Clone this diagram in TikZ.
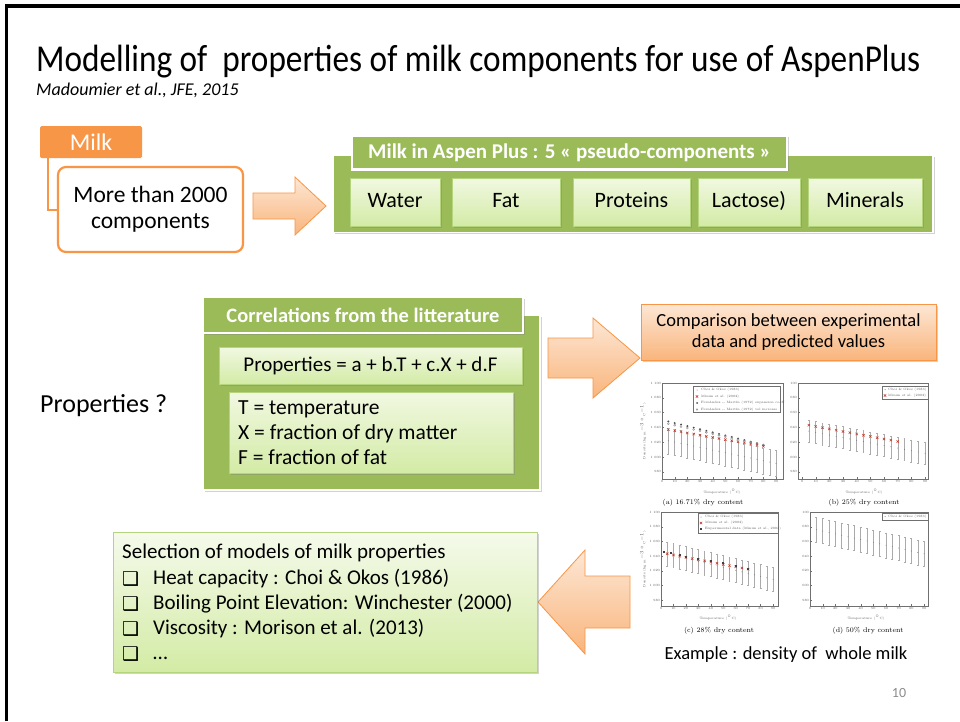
\documentclass[tikz,border=0pt]{standalone}
\usepackage{fontspec}
\usepackage{graphicx}
\setmainfont{Carlito}
\newfontfamily\dejavu{DejaVu Sans}
\newfontfamily\lmr{Latin Modern Roman}
\usetikzlibrary{shadows,calc}
\definecolor{orng}{HTML}{F79646}
\definecolor{grn}{HTML}{9BBB59}
\definecolor{lgtop}{HTML}{F1F8E2}
\definecolor{lgbot}{HTML}{D3EBA5}
\definecolor{lgborder}{HTML}{B5D47E}
\definecolor{pchtop}{HTML}{FDE7D5}
\definecolor{pchbot}{HTML}{F9B57C}
\definecolor{pgnum}{HTML}{8C8C8C}
\definecolor{axisc}{HTML}{707070}
\definecolor{errc}{HTML}{ABABAB}
\definecolor{redx}{HTML}{C0392B}
\tikzset{
  shad/.style={drop shadow={shadow xshift=1.5pt,shadow yshift=-1.8pt,opacity=0.35}},
  greenbox/.style={fill=grn,draw=white,line width=1.2pt,shad},
  greentab/.style={fill=grn,draw=white,line width=2.5pt,text=white,shad},
  limebox/.style={top color=lgtop,bottom color=lgbot,draw=lgborder,line width=0.6pt,shad},
  peachbox/.style={top color=pchtop,bottom color=pchbot,draw=orng,line width=0.8pt,shad},
  blockarrow/.style={top color=pchtop,bottom color=pchbot,draw=orng,line width=0.8pt},
  ticklab/.style={font=\lmr\fontsize{3.2}{3.6}\selectfont,text=black!65,inner sep=0.4pt},
  legtxt/.style={font=\lmr\fontsize{3.2}{3.6}\selectfont,text=black!65,anchor=west,inner sep=0pt},
  caplab/.style={font=\lmr\fontsize{7}{8}\selectfont,inner sep=0pt},
  seltxt/.style={anchor=base west,inner sep=0pt,font=\fontsize{21}{24}\selectfont},
}
\newcommand\densaxes[9]{%
  \draw[axisc,line width=0.4pt] (#1,#3) rectangle (#2,#4);
  \foreach \v/\lab in {1100/#8100,1080/#8080,1060/#8060,1040/#8040,1020/#8020,1000/#8000,980/980}{
    \pgfmathsetmacro\yy{#3+(1100-\v)*#7}
    \draw[axisc,line width=0.3pt] (#1,\yy) -- ++(2,0);
    \node[ticklab,anchor=east] (yt#9\v) at (#1-0.5,\yy) {\lab};
  }
  \foreach \t in {0,10,...,90}{
    \pgfmathsetmacro\xx{#5+\t*#6}
    \draw[axisc,line width=0.3pt] (\xx,#4) -- ++(0,-2);
    \node[ticklab,anchor=north] (xt#9\t) at (\xx,#4+0.5) {\t};
  }
}
\newcommand\ebar[4]{\draw[#4,line width=0.4pt] (#1,#2-#3) -- (#1,#2+#3) (#1-0.9,#2-#3) -- (#1+0.9,#2-#3) (#1-0.9,#2+#3) -- (#1+0.9,#2+#3);}
\newcommand\rx[2]{\draw[redx,line width=0.5pt] (#1-1.2,#2-1.2) -- (#1+1.2,#2+1.2) (#1-1.2,#2+1.2) -- (#1+1.2,#2-1.2);}
\begin{document}
\begin{tikzpicture}[x=1pt,y=-1pt]
\useasboundingbox (0,0) rectangle (960,721);
\fill[white] (0,0) rectangle (960,721);
\draw[line width=3.5pt] (6.5,721) -- (6.5,6) -- (960,6);

% title
\node[anchor=base west,inner sep=0pt] (title) at (36,71)
  {\resizebox{884pt}{\height}{\fontsize{38}{44}\selectfont Modelling of\ \ properties of milk components for use of AspenPlus}};
\node[anchor=base west,inner sep=0pt,font=\itshape\fontsize{18}{21}\selectfont] (cite) at (36,95) {Madoumier et al., JFE, 2015};

% milk
\node[fill=orng,rounded corners=1.5pt,minimum width=102pt,minimum height=32pt,text=white,
  font=\fontsize{24}{28}\selectfont,inner sep=0pt] (milk) at (91,142) {Milk};
\node[draw=orng,line width=2.2pt,rounded corners=8pt,fill=white,minimum width=185pt,minimum height=85pt,
  align=center,font=\fontsize{23.5}{26}\selectfont] (comp) at (150.5,209.5) {More than 2000\\components};
\draw[orng,line width=2pt] ($(milk.south west)+(8,0)$) |- (comp.west);

% arrow 1
\shade[blockarrow] (253,193) -- (295,193) -- (295,177) -- (326,206) -- (295,235) -- (295,219) -- (253,219) -- cycle;

% aspen
\node[greenbox,minimum width=600pt,minimum height=77pt] (aspen) at (633,194) {};
\node[greentab,minimum width=435pt,minimum height=34pt,inner sep=0pt,font=\bfseries\fontsize{21}{24}\selectfont] (aspentab) at (569.5,152.5)
  {Milk in Aspen Plus : 5 « pseudo-components »};
\foreach \nm/\cx/\w/\txt in {water/395/90/Water, fat/506/108/Fat, prot/631.5/117/Proteins, lact/749/102/Lactose), mine/865/114/Minerals}{
  \node[limebox,minimum width=\w pt,minimum height=48pt,inner sep=0pt,text height=15pt,text depth=4pt,
    font=\fontsize{22}{25}\selectfont] (\nm) at (\cx,202) {\txt};
}

% properties ?
\node[anchor=base west,inner sep=0pt,font=\fontsize{26}{30}\selectfont] (propq) at (40,412) {Properties ?};

% correlations
\node[greenbox,minimum width=337pt,minimum height=175pt] (corr) at (371.5,402.5) {};
\node[greentab,minimum width=320pt,minimum height=36pt,inner sep=0pt,font=\bfseries\fontsize{20.5}{24}\selectfont] (corrtab) at (363,315) {Correlations from the litterature};
\node[limebox,minimum width=303pt,minimum height=37pt,inner sep=0pt,font=\fontsize{21}{24}\selectfont] (eq) at (370.5,365.5)
  {Properties = a + b.T + c.X + d.F};
\node[limebox,minimum width=284pt,minimum height=81pt] (vars) at (371,432.5) {};
\node[anchor=west,align=left,inner sep=0pt,font=\fontsize{21.5}{25}\selectfont] (varstxt) at (238,433)
  {T = temperature\\X = fraction of dry matter\\F = fraction of fat};

% arrow 2
\shade[blockarrow] (548,338) -- (593,338) -- (593,318) -- (640,358) -- (593,398) -- (593,378) -- (548,378) -- cycle;

% comparison
\node[peachbox,minimum width=295pt,minimum height=56pt,align=center,inner sep=0pt,font=\fontsize{18.5}{21.5}\selectfont] (cmp) at (788.5,332)
  {Comparison between experimental\\data and predicted values};

% ---------- plot (a)
\densaxes{662}{783}{383}{479}{662}{1.267}{0.74}{1 }{a}
\foreach \t in {5,10,...,90}{
  \pgfmathsetmacro\xx{662+\t*1.267}
  \pgfmathsetmacro\yc{383+(1100-1022+(\t-5)*0.36)*0.74}
  \ebar{\xx}{\yc}{13}{errc}
  \fill[black!55] (\xx,\yc) circle (0.45);
}
\foreach \t in {5,10,...,80}{
  \pgfmathsetmacro\xx{662+\t*1.267}
  \pgfmathsetmacro\ya{383+(1100-1048+(\t-5)*0.42)*0.74}
  \pgfmathsetmacro\yb{383+(1100-1045+(\t-5)*0.39)*0.74}
  \pgfmathsetmacro\yr{383+(1100-1037+(\t-5)*0.3)*0.74}
  \fill[black!70] (\xx,\ya) circle (1.1);
  \draw[black!45,line width=0.4pt] (\xx,\yb) circle (1.0);
  \rx{\xx}{\yr}
}
\draw[axisc,fill=white,line width=0.3pt] (693,386) rectangle (780,412);
\fill[black!55] (697,390) circle (0.5);
\rx{697}{396.5}
\fill[black!70] (697,403) circle (1);
\draw[black!45,line width=0.4pt] (697,409.5) circle (0.9);
\node[legtxt] (la1) at (701,390) {Choi \& Okos (1986)};
\node[legtxt] (la2) at (701,396.5) {Minim et al. (2002)};
\node[legtxt] (la3) at (701,403) {Fernández -- Martín (1972) expansion coeff};
\node[legtxt] (la4) at (701,409.5) {Fernández -- Martín (1972) vol increase};
\node[ticklab,rotate=90] (ya) at (643,431) {Density (kg m$^{-3}$ $^\circ$C$^{-1}$)};
\node[ticklab] (xa) at (722,492) {Temperature ($^\circ$C)};
\node[caplab] (capa) at (703,503) {(a) 16.71\% dry content};

% ---------- plot (b)
\densaxes{798}{928}{383}{479}{802}{1.367}{0.74}{}{b}
\foreach \t in {5,10,...,90}{
  \pgfmathsetmacro\xx{802+\t*1.367}
  \pgfmathsetmacro\yc{383+(1100-1035+(\t-5)*0.353)*0.74}
  \ebar{\xx}{\yc}{11}{errc}
  \fill[black!55] (\xx,\yc) circle (0.45);
}
\foreach \t in {5,10,...,70}{
  \pgfmathsetmacro\xx{802+\t*1.367}
  \pgfmathsetmacro\yr{383+(1100-1043+(\t-5)*0.338)*0.74}
  \rx{\xx}{\yr}
}
\draw[axisc,fill=white,line width=0.3pt] (882,386) rectangle (928,399);
\fill[black!55] (885,389.5) circle (0.5);
\rx{885}{395.5}
\node[legtxt] (lb1) at (888,389.5) {Choi \& Okos (1986)};
\node[legtxt] (lb2) at (888,395.5) {Minim et al. (2002)};
\node[ticklab] (xb) at (864,492) {Temperature ($^\circ$C)};
\node[caplab] (capb) at (864,503) {(b) 25\% dry content};

% ---------- plot (c)
\densaxes{661}{778}{512}{606}{661}{1.245}{0.733}{1 }{c}
\foreach \t in {5,10,...,90}{
  \pgfmathsetmacro\xx{661+\t*1.245}
  \pgfmathsetmacro\yc{512+(1100-1043+(\t-5)*0.41)*0.733}
  \ebar{\xx}{\yc}{12}{errc}
  \fill[black!55] (\xx,\yc) circle (0.45);
}
\foreach \t in {5,10,...,70}{
  \pgfmathsetmacro\xx{661+\t*1.245}
  \pgfmathsetmacro\yr{512+(1100-1043+(\t-5)*0.323)*0.733}
  \rx{\xx}{\yr}
}
\foreach \t/\v in {2/1046,8/1044,15/1041,20/1039,30/1036,40/1033,50/1030,60/1026,70/1022}{
  \pgfmathsetmacro\xx{661+\t*1.245}
  \pgfmathsetmacro\yr{512+(1100-\v)*0.733}
  \fill[black!75] (\xx-1,\yr-1) rectangle (\xx+1,\yr+1);
}
\draw[axisc,fill=white,line width=0.3pt] (698,513) rectangle (778,533);
\fill[black!55] (701,517) circle (0.5);
\rx{701}{523}
\fill[black!75] (700,528) rectangle (702,530);
\node[legtxt] (lc1) at (705,517) {Choi \& Okos (1986)};
\node[legtxt] (lc2) at (705,523) {Minim et al. (2002)};
\node[legtxt] (lc3) at (705,529) {Experimental data (Minim et al., 2002)};
\node[ticklab,rotate=90] (yc) at (643,559) {Density (kg m$^{-3}$ $^\circ$C$^{-1}$)};
\node[ticklab] (xc) at (718,618) {Temperature ($^\circ$C)};
\node[caplab] (capc) at (719,631) {(c) 28\% dry content};

% ---------- plot (d)
\densaxes{810}{928}{512}{606}{810}{1.267}{0.733}{}{d}
\foreach \t in {5,10,...,90}{
  \pgfmathsetmacro\xx{810+\t*1.267}
  \pgfmathsetmacro\yc{512+(1100-1076+(\t-5)*0.388)*0.733}
  \ebar{\xx}{\yc}{12.5}{errc}
  \fill[black!55] (\xx,\yc) circle (0.45);
}
\draw[axisc,fill=white,line width=0.3pt] (882,513) rectangle (928,520);
\fill[black!55] (885,516.5) circle (0.5);
\node[legtxt] (ld1) at (888,516.5) {Choi \& Okos (1986)};
\node[ticklab] (xd) at (866,618) {Temperature ($^\circ$C)};
\node[caplab] (capd) at (868,631) {(d) 50\% dry content};

\node[font=\fontsize{18.5}{21}\selectfont,inner sep=0pt] (example) at (786,655) {Example : density of\ \ whole milk};

% arrow 3
\shade[blockarrow] (538,602) -- (585,550) -- (585,576) -- (630,576) -- (630,628) -- (585,628) -- (585,654) -- cycle;

% selection box
\node[limebox,anchor=north west,minimum width=424pt,minimum height=140pt,
  top color=lgtop!70!white,bottom color=lgbot] (sel) at (113,532) {};
\node[seltxt] (sel0) at (122,558) {Selection of models of milk properties};
\foreach \i/\y/\txt in {1/584/Heat capacity : Choi \& Okos (1986), 2/609/Boiling Point Elevation: Winchester (2000),
  3/634/Viscosity : Morison et al. (2013), 4/659/…}{
  \node[anchor=base west,inner sep=0pt,font=\dejavu\fontsize{19}{21}\selectfont] (bul\i) at (122,\y+1) {❑};
  \node[seltxt] (selt\i) at (153,\y) {\txt};
}

\node[font=\fontsize{14}{16}\selectfont,text=pgnum,inner sep=0pt] (pg) at (899,693) {10};
\end{tikzpicture}
\end{document}
